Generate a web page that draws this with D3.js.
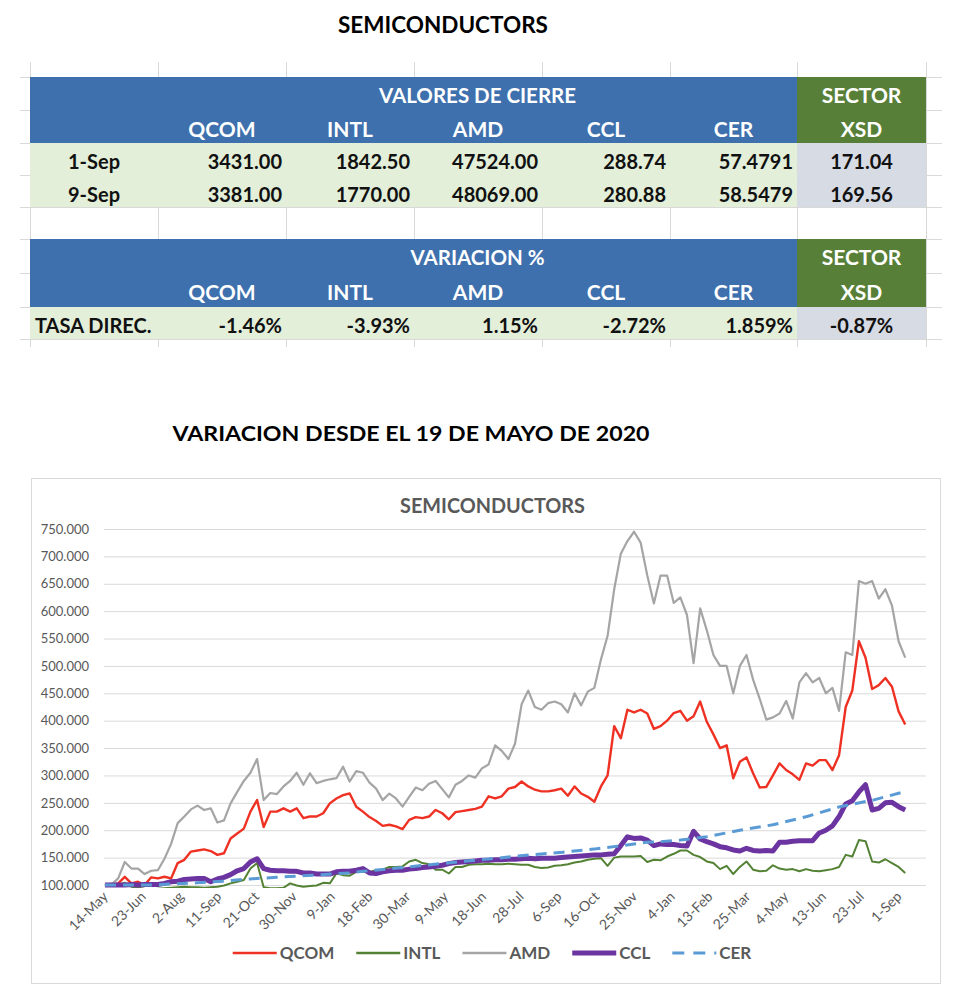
<!DOCTYPE html>
<html><head><meta charset="utf-8">
<script src="https://cdn.jsdelivr.net/npm/d3@7"></script>
<style>
html,body{margin:0;padding:0;background:#fff;}
svg{display:block;font-family:Lato,"Open Sans",sans-serif;}
</style></head><body>
<svg id="c" width="980" height="1007"></svg>
<script>
// ---------- TABLE DATA ----------
const pageTitle = "SEMICONDUCTORS";
const chartSectionTitle = "VARIACION DESDE EL 19 DE MAYO DE 2020";
const tickers = ["QCOM","INTL","AMD","CCL","CER"];
const closeHeader = "VALORES DE CIERRE";
const varHeader = "VARIACION %";
const sectorHeader = ["SECTOR","XSD"];
const closeRowLabels = ["1-Sep","9-Sep"];
const closeRow1 = ["3431.00","1842.50","47524.00","288.74","57.4791"];
const closeRow2 = ["3381.00","1770.00","48069.00","280.88","58.5479"];
const sectorClose = ["171.04","169.56"];
const varRowLabel = "TASA DIREC.";
const varRow = ["-1.46%","-3.93%","1.15%","-2.72%","1.859%"];
const sectorVar = "-0.87%";

// ---------- CHART DATA ----------
const chartTitle = "SEMICONDUCTORS";
const seriesNames = ["QCOM","INTL","AMD","CCL","CER"];
const dates = ["2020-05-15","2020-05-22","2020-05-29","2020-06-05","2020-06-12","2020-06-19","2020-06-26","2020-07-03","2020-07-10","2020-07-17",
"2020-07-24","2020-07-31","2020-08-07","2020-08-14","2020-08-21","2020-08-28","2020-09-04","2020-09-11","2020-09-18","2020-09-25",
"2020-10-02","2020-10-09","2020-10-16","2020-10-23","2020-10-30","2020-11-06","2020-11-13","2020-11-20","2020-11-27","2020-12-04",
"2020-12-11","2020-12-18","2020-12-25","2021-01-01","2021-01-08","2021-01-15","2021-01-22","2021-01-29","2021-02-05","2021-02-12",
"2021-02-19","2021-02-26","2021-03-05","2021-03-12","2021-03-19","2021-03-26","2021-04-02","2021-04-09","2021-04-16","2021-04-23",
"2021-04-30","2021-05-07","2021-05-14","2021-05-21","2021-05-28","2021-06-04","2021-06-11","2021-06-18","2021-06-25","2021-07-02",
"2021-07-09","2021-07-16","2021-07-23","2021-07-30","2021-08-06","2021-08-13","2021-08-20","2021-08-27","2021-09-03","2021-09-10",
"2021-09-17","2021-09-24","2021-10-01","2021-10-08","2021-10-15","2021-10-22","2021-10-29","2021-11-05","2021-11-12","2021-11-19",
"2021-11-26","2021-12-03","2021-12-10","2021-12-17","2021-12-24","2021-12-31","2022-01-07","2022-01-14","2022-01-21","2022-01-28",
"2022-02-04","2022-02-11","2022-02-18","2022-02-25","2022-03-04","2022-03-11","2022-03-18","2022-03-25","2022-04-01","2022-04-08",
"2022-04-15","2022-04-22","2022-04-29","2022-05-06","2022-05-13","2022-05-20","2022-05-27","2022-06-03","2022-06-10","2022-06-17",
"2022-06-24","2022-07-01","2022-07-08","2022-07-15","2022-07-22","2022-07-29","2022-08-05","2022-08-12","2022-08-19","2022-08-26",
"2022-09-02","2022-09-09"];
const qcom = [101,102,103,115,103,106,100,114,112,115, 112,140,146,161,163,165,162,155,158,185,
194,203,234,255,206,234,234,240,234,240, 222,225,225,231,249,258,264,267,243,234,
224,217,208,210,207,202,219,224,222,225, 237,231,220,233,235,237,239,243,262,258,
262,276,279,289,280,274,271,271,273,276, 263,280,267,261,252,280,300,390,368,420,
415,420,413,385,390,400,414,418,400,408, 435,398,375,350,355,295,325,333,304,278,
279,300,322,310,302,292,322,318,328,328, 310,337,425,455,545,515,458,465,478,462,
417,393];
const intl = [100,101,100,104,97,95,93,92,93,94, 95,96,97,96,96,95,96,97,99,103,
106,109,130,140,96,94,94,95,103,99, 97,98,99,104,103,121,118,117,124,124,
124,127,128,133,133,134,143,146,140,138, 128,128,121,133,133,137,138,138,139,138,
138,139,138,137,137,133,131,132,135,136, 138,141,143,146,148,149,135,150,152,152,
152,153,142,146,145,152,157,163,163,155, 151,143,140,129,135,120,133,143,128,125,
126,136,130,128,129,125,129,126,125,127, 129,133,155,152,182,180,143,141,147,140,
133,122];
const amd = [100,101,112,142,130,130,120,126,127,148, 175,213,225,238,245,237,240,214,218,249,
270,290,305,330,255,268,266,280,290,305, 283,304,286,290,293,295,316,289,308,305,
287,276,255,267,258,243,261,278,273,285, 290,275,260,283,290,300,296,313,320,355,
345,330,358,430,455,425,420,432,435,430, 415,450,428,453,460,512,555,640,705,728,
745,725,665,614,665,665,615,625,593,505, 605,565,520,500,500,450,500,520,475,440,
402,406,413,436,404,470,487,470,478,450, 460,418,525,520,655,650,655,623,640,610,
545,515];
const ccl = [100,100,100,100,101,100,101,101,101,103, 106,107,110,111,112,112,106,111,114,119,
126,130,142,148,130,127,126,126,125,125, 122,122,120,120,120,124,125,125,127,130,
122,121,124,126,127,127,129,130,132,133, 134,136,139,141,142,143,144,145,145,146,
146,147,147,148,149,148,149,149,149,150, 151,152,153,154,155,155,156,157,172,188,
185,186,182,172,175,174,174,172,171,198, 184,179,175,170,168,164,162,167,163,162,
163,162,178,178,180,181,181,181,195,200, 208,225,248,254,270,283,237,240,250,251,
243,237];
const cerDates = ["2020-05-15","2020-07-09","2020-07-25","2020-08-20","2020-09-17","2020-10-15","2020-11-13","2020-12-21","2021-01-29","2021-02-12",
"2021-03-20","2021-04-24","2021-05-29","2021-07-04","2021-08-08","2021-09-12","2021-10-17","2021-11-14","2021-12-09","2021-12-23",
"2022-01-14","2022-02-11","2022-03-18","2022-04-22","2022-05-28","2022-07-02","2022-08-06","2022-09-03","2022-09-09"];
const cer = [100,100,102,104,107,111,114,118,122,125, 131,137,143,149,155,160,166,172,178,179, 182,188,200,210,225,243,255,268,271];

const yTicks = [100,150,200,250,300,350,400,450,500,550,600,650,700,750];
const xTickDates = ["2020-05-14","2020-06-23","2020-08-02","2020-09-11","2020-10-21","2020-11-30","2021-01-09","2021-02-18","2021-03-30","2021-05-09","2021-06-18",
"2021-07-28","2021-09-06","2021-10-16","2021-11-25","2022-01-04","2022-02-13","2022-03-25","2022-05-04","2022-06-13","2022-07-23","2022-09-01"];
const xTickLabels = ["14-May","23-Jun","2-Aug","11-Sep","21-Oct","30-Nov","9-Jan","18-Feb","30-Mar","9-May","18-Jun",
"28-Jul","6-Sep","16-Oct","25-Nov","4-Jan","13-Feb","25-Mar","4-May","13-Jun","23-Jul","1-Sep"];
const xDomain = ["2020-05-14","2022-10-01"];

// ---------- DRAW ----------
const svg = d3.select("#c");
const parse = d3.timeParse("%Y-%m-%d");

// page title
svg.append("text").attr("x",443).attr("y",33).attr("text-anchor","middle")
  .attr("font-weight",700).attr("font-size",22.5).attr("fill","#000").text(pageTitle);

// table
const cols = [30,158,286,414,542,670,797,926];
const rowsY = [77,110,143,175,207,239,273,307,339];
const grid = svg.append("g").attr("stroke","#d9d9d9").attr("stroke-width",1).attr("shape-rendering","crispEdges");
cols.forEach(x=>grid.append("line").attr("x1",x).attr("x2",x).attr("y1",62).attr("y2",347));
rowsY.forEach(y=>grid.append("line").attr("x1",20).attr("x2",942).attr("y1",y).attr("y2",y));

const BLUE="#3e70ad", GREEN="#587f37", LGREEN="#e3efd9", GRAY="#d6dbe4";
function rect(x0,x1,y0,y1,c){svg.append("rect").attr("x",x0).attr("y",y0).attr("width",x1-x0).attr("height",y1-y0).attr("fill",c);}
rect(30,797,77,143,BLUE); rect(797,926,77,143,GREEN);
rect(30,797,143,207,LGREEN); rect(797,926,143,207,GRAY);
rect(30,797,239,307,BLUE); rect(797,926,239,307,GREEN);
rect(30,797,307,339,LGREEN); rect(797,926,307,339,GRAY);

function txt(x,y,s,anchor,color,size){
  return svg.append("text").attr("x",x).attr("y",y).attr("text-anchor",anchor)
   .attr("font-weight",700).attr("font-size",size).attr("fill",color).text(s);
}
const colC = i => (cols[i]+cols[i+1])/2;
// header block 1
txt((cols[1]+cols[6])/2,103,closeHeader,"middle","#fff",20.5);
txt(colC(6),103,sectorHeader[0],"middle","#fff",21);
txt(colC(6),137,sectorHeader[1],"middle","#fff",21);
tickers.forEach((t,i)=>txt(colC(i+1),137,t,"middle","#fff",21));
[closeRow1,closeRow2].forEach((row,r)=>{
  const by = [169,202][r];
  txt(colC(0),by,closeRowLabels[r],"middle","#111",20);
  row.forEach((v,i)=>txt(cols[i+2]-4,by,v,"end","#111",20));
  txt(colC(6),by,sectorClose[r],"middle","#111",20);
});
// header block 2
txt((cols[1]+cols[6])/2,265,varHeader,"middle","#fff",20.5);
txt(colC(6),265,sectorHeader[0],"middle","#fff",21);
txt(colC(6),300,sectorHeader[1],"middle","#fff",21);
tickers.forEach((t,i)=>txt(colC(i+1),300,t,"middle","#fff",21));
txt(35,333,varRowLabel,"start","#111",20);
varRow.forEach((v,i)=>txt(cols[i+2]-4,333,v,"end","#111",20));
txt(colC(6),333,sectorVar,"middle","#111",20);

// section title
svg.append("text").attr("x",411).attr("y",441).attr("text-anchor","middle")
  .attr("font-weight",700).attr("font-size",21).attr("fill","#000")
  .attr("textLength",477).attr("lengthAdjust","spacingAndGlyphs").text(chartSectionTitle);

// chart frame
svg.append("rect").attr("x",31.5).attr("y",478.5).attr("width",909).attr("height",505)
  .attr("fill","#fff").attr("stroke","#d9d9d9");
svg.append("text").attr("x",492.5).attr("y",513).attr("text-anchor","middle")
  .attr("font-weight",700).attr("font-size",20).attr("fill","#595959")
  .attr("textLength",185).attr("lengthAdjust","spacingAndGlyphs").text(chartTitle);

const L=104, R=926, T=529, B=885;
const x = d3.scaleTime().domain(xDomain.map(parse)).range([L,R]);
const y = d3.scaleLinear().domain([100,750]).range([B,T]);

// y axis + gridlines
const yAx = svg.append("g").attr("transform",`translate(${L},0)`)
  .call(d3.axisLeft(y).tickValues(yTicks).tickSize(-(R-L)).tickPadding(15).tickFormat(d3.format(".3f")));
yAx.select(".domain").remove();
yAx.selectAll("line").attr("stroke","#d9d9d9").attr("stroke-width",1);
yAx.selectAll("text").attr("fill","#595959").attr("font-size",13).attr("font-family","Lato, sans-serif");

// x axis labels
const xAx = svg.append("g").attr("transform",`translate(0,${B})`)
  .call(d3.axisBottom(x).tickValues(xTickDates.map(parse)).tickSize(0).tickFormat((d,i)=>xTickLabels[i]));
xAx.select(".domain").remove();
xAx.selectAll("text").attr("x",0).attr("y",0).attr("dy","0.35em")
  .attr("transform","translate(1,9) rotate(-45)").attr("text-anchor","end")
  .attr("fill","#595959").attr("font-size",14).attr("font-family","Lato, sans-serif");

// clip
svg.append("clipPath").attr("id","plotclip").append("rect")
  .attr("x",L).attr("y",T-10).attr("width",R-L).attr("height",B-T+13);
const plot = svg.append("g").attr("clip-path","url(#plotclip)");

const styles = {
  QCOM:{color:"#ef3124",w:2.4,dash:null},
  INTL:{color:"#548235",w:2,dash:null},
  AMD:{color:"#a5a5a5",w:2.2,dash:null},
  CCL:{color:"#6c34a0",w:5,dash:null},
  CER:{color:"#5b9bd5",w:3,dash:"11,7"}
};
const dParsed = dates.map(parse);
const seriesData = {
  QCOM: dParsed.map((d,i)=>[d,qcom[i]]),
  INTL: dParsed.map((d,i)=>[d,intl[i]]),
  AMD: dParsed.map((d,i)=>[d,amd[i]]),
  CCL: dParsed.map((d,i)=>[d,ccl[i]]),
  CER: cerDates.map((d,i)=>[parse(d),cer[i]])
};
const line = d3.line().x(d=>x(d[0])).y(d=>y(d[1]));
seriesNames.forEach(n=>{
  const s = styles[n];
  plot.append("path").attr("d",line(seriesData[n])).attr("fill","none")
    .attr("stroke",s.color).attr("stroke-width",s.w).attr("stroke-linejoin","round")
    .attr("stroke-dasharray",s.dash);
});

// legend
const lg = svg.append("g");
let cx = 0;
seriesNames.forEach(n=>{
  const g = lg.append("g");
  const s = styles[n];
  g.append("line").attr("x1",0).attr("x2",44).attr("y1",0).attr("y2",0)
    .attr("stroke",s.color).attr("stroke-width",n==="CCL"?5:(n==="CER"?3:2.6))
    .attr("stroke-dasharray",n==="CER"?"12,9":null);
  const t = g.append("text").attr("x",47).attr("y",6).attr("font-weight",700)
    .attr("font-size",17).attr("fill","#595959").text(n);
  const w = 47 + t.node().getComputedTextLength();
  g.attr("transform",`translate(${cx},953)`);
  cx += w + 22;
});
const total = cx - 22;
lg.attr("transform",`translate(${492 - total/2},0)`);
</script>
</body></html>
